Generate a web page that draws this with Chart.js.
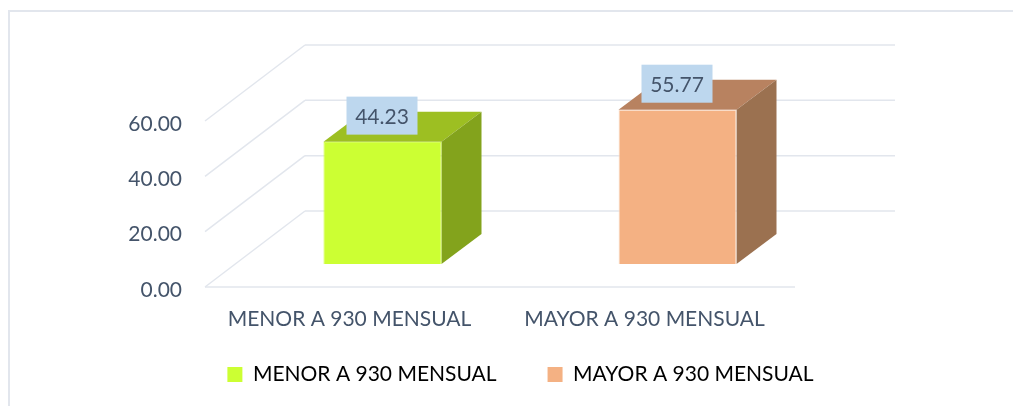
<!DOCTYPE html>
<html>
<head>
<meta charset="utf-8">
<style>
  html, body { margin: 0; padding: 0; background: #fff; }
  canvas { display: block; }
</style>
<script src="https://cdn.jsdelivr.net/npm/chart.js@4"></script>
</head>
<body>
<canvas id="ingresos" width="1013" height="406"></canvas>
<script>
const categorias = ['MENOR A 930 MENSUAL', 'MAYOR A 930 MENSUAL'];
const porcentajes = [44.23, 55.77];
const colorFrente = ['#CCFF33', '#F4B183'];
const colorArriba = ['#9DBF22', '#B88260'];
const colorLado = ['#83A31C', '#9B7150'];
const colorBorde = ['#CCFF33', '#FBE5D6'];

const colorTexto = '#44546A';
const colorLinea = '#E2E6ED';
const fuente = 'Lato';
const tamLetra = 21;

// desplazamientos del efecto 3D
const fondoX = 100, fondoY = 76;       // pared del fondo
const barraX = 30, barraY = 23;        // la barra esta adentro del piso
const profX = 40, profY = 30;          // profundidad de la barra

function linea(ctx, x1, y1, x2, y2) {
    ctx.beginPath();
    ctx.moveTo(x1, y1);
    ctx.lineTo(x2, y2);
    ctx.stroke();
}

function cara(ctx, puntos, color) {
    ctx.fillStyle = color;
    ctx.beginPath();
    puntos.forEach((p, i) => i ? ctx.lineTo(p[0], p[1]) : ctx.moveTo(p[0], p[1]));
    ctx.closePath();
    ctx.fill();
}

const efecto3D = {
    id: 'efecto3D',
    afterLayout(chart) {
        // las etiquetas se recortan a la caja del eje, y la leyenda le quita alto
        chart.scales.x.bottom = chart.scales.x.top + 60;
    },
    beforeDatasetsDraw(chart) {
        const ctx = chart.ctx;
        const { left, right, bottom } = chart.chartArea;
        ctx.save();
        ctx.strokeStyle = colorLinea;
        ctx.lineWidth = 2;
        // marco
        linea(ctx, 9, 406, 9, 11);
        linea(ctx, 8, 11, 1013, 11);
        ctx.lineWidth = 1.5;
        // piso y paredes
        linea(ctx, left, bottom, right, bottom);
        chart.scales.y.ticks.forEach(t => {
            const y = chart.scales.y.getPixelForValue(t.value);
            linea(ctx, left, y, left + fondoX, y - fondoY);
            linea(ctx, left + fondoX, y - fondoY, right + fondoX, y - fondoY);
        });
        ctx.restore();
    },
    beforeDatasetDraw(chart) {
        const ctx = chart.ctx;
        ctx.save();
        ctx.translate(barraX, -barraY);
        chart.getDatasetMeta(0).data.forEach((bar, i) => {
            const izq = bar.x - bar.width / 2, der = bar.x + bar.width / 2;
            cara(ctx, [[izq, bar.y], [der, bar.y], [der + profX, bar.y - profY], [izq + profX, bar.y - profY]], colorArriba[i]);
            cara(ctx, [[der, bar.y], [der + profX, bar.y - profY], [der + profX, bar.base - profY], [der, bar.base]], colorLado[i]);
        });
    },
    afterDatasetDraw(chart) {
        chart.ctx.restore();
    },
    afterDatasetsDraw(chart) {
        const ctx = chart.ctx;
        ctx.save();
        ctx.font = tamLetra + 'px ' + fuente;
        ctx.textAlign = 'center';
        ctx.textBaseline = 'middle';
        chart.getDatasetMeta(0).data.forEach((bar, i) => {
            const cx = bar.x + barraX - 0.5;
            const cy = bar.y - barraY - 26;
            ctx.fillStyle = '#BDD7EE';
            ctx.fillRect(cx - 35.5, cy - 19, 71, 38);
            ctx.fillStyle = colorTexto;
            ctx.fillText(porcentajes[i].toFixed(2), cx, cy + 2);
        });
        ctx.restore();
    }
};

const ingresos = new Chart(document.getElementById('ingresos'), {
    type: 'bar',
    data: {
        labels: categorias,
        datasets: [{
            data: porcentajes,
            backgroundColor: colorFrente,
            borderColor: colorBorde,
            borderWidth: 1,
            barPercentage: 0.4,
            categoryPercentage: 1,
            clip: false
        }]
    },
    plugins: [efecto3D],
    options: {
        responsive: false,
        animation: false,
        layout: { padding: { left: 28, top: 121, right: 0, bottom: 11 } },
        scales: {
            x: {
                grid: { display: false },
                border: { display: false },
                ticks: { color: colorTexto, font: { family: fuente, size: tamLetra }, padding: 12, labelOffset: -3, maxRotation: 0 },
                afterFit(scale) { scale.height = 26; }
            },
            y: {
                min: 0,
                max: 60,
                grid: { display: false },
                border: { display: false },
                ticks: {
                    stepSize: 20,
                    color: colorTexto,
                    font: { family: fuente, size: tamLetra },
                    padding: 15,
                    labelOffset: 3,
                    callback: v => v.toFixed(2)
                },
                afterFit(scale) { scale.width = 177; }
            },
            // eje vacio, solo reserva el espacio a la derecha para la pared del fondo
            margen: {
                axis: 'y',
                position: 'right',
                grid: { display: false },
                border: { display: false },
                ticks: { display: false },
                afterFit(scale) { scale.width = 218; }
            }
        },
        plugins: {
            tooltip: { enabled: false },
            legend: {
                position: 'bottom',
                labels: {
                    color: colorTexto,
                    font: { family: fuente, size: tamLetra },
                    boxWidth: 15,
                    boxHeight: 15,
                    padding: 51,
                    generateLabels: () => categorias.map((c, i) => ({
                        text: c,
                        fillStyle: colorFrente[i],
                        lineWidth: 0,
                        strokeStyle: colorFrente[i]
                    }))
                }
            }
        }
    }
});
</script>
</body>
</html>
